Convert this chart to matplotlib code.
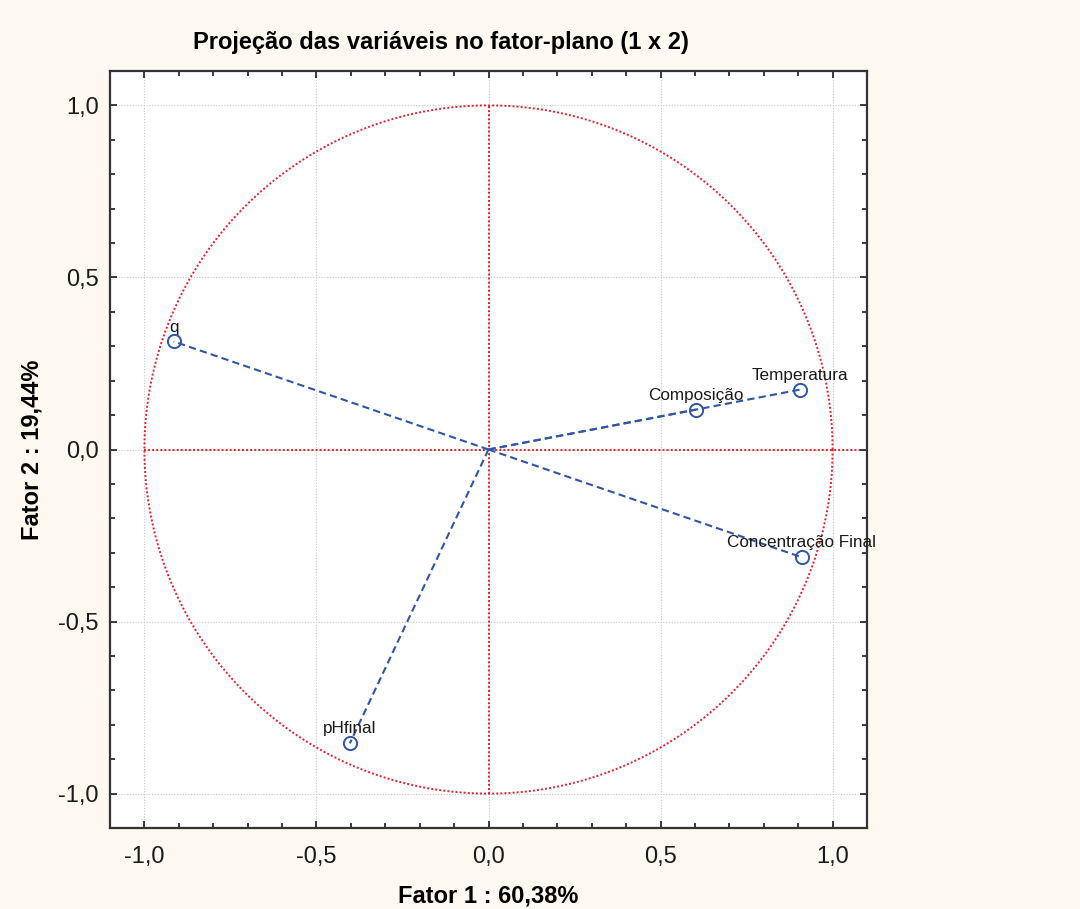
import numpy as np
import matplotlib.pyplot as plt
from matplotlib.ticker import MultipleLocator, FuncFormatter

plt.rcParams['font.family'] = ['Liberation Sans', 'DejaVu Sans']

# variable loadings on factors 1 and 2
variaveis = ['q', 'Temperatura', 'Composição', 'Concentração Final', 'pHfinal']
fator1 = [-0.915, 0.905, 0.603, 0.91, -0.403]
fator2 = [0.314, 0.174, 0.116, -0.313, -0.854]

blue = '#2f55a8'
red = '#e8202a'
bg = '#fdf9f1'

fig = plt.figure(figsize=(10.8, 9.09), dpi=100, facecolor=bg)
ax = fig.add_axes([110/1080, 1 - 828/909, 757/1080, 757/909])
ax.set_facecolor('white')

ax.set_xlim(-1.1, 1.1)
ax.set_ylim(-1.1, 1.1)

# unit circle and axes through origin
t = np.linspace(0, 2*np.pi, 600)
ax.plot(np.cos(t), np.sin(t), color=red, lw=1.4, ls=(0, (1, 1.1)), zorder=2)
ax.plot([-1, 1.08], [0, 0], color=red, lw=1.4, ls=(0, (1, 1.1)), zorder=2)
ax.plot([0, 0], [-1, 1], color=red, lw=1.4, ls=(0, (1, 1.1)), zorder=2)

for name, x, y in zip(variaveis, fator1, fator2):
    ax.plot([0, x], [0, y], color=blue, lw=1.5, ls=(0, (3.5, 2)), zorder=3)
    ax.plot(x, y, 'o', mfc='none', mec=blue, ms=9.5, mew=1.4, zorder=4)
    ax.annotate(name, (x, y), xytext=(0, 5), textcoords='offset points',
                ha='center', va='bottom', fontsize=12.3, color='#1a1a1a')

ax.xaxis.set_major_locator(MultipleLocator(0.5))
ax.yaxis.set_major_locator(MultipleLocator(0.5))
ax.xaxis.set_minor_locator(MultipleLocator(0.1))
ax.yaxis.set_minor_locator(MultipleLocator(0.1))
fmt = FuncFormatter(lambda v, p: f'{v:.1f}'.replace('.', ','))
ax.xaxis.set_major_formatter(fmt)
ax.yaxis.set_major_formatter(fmt)
ax.tick_params(which='both', direction='in', top=True, right=True,
               labelsize=17, colors='#1a1a1a', width=1.2)
ax.tick_params(which='major', length=5)
ax.tick_params(axis='x', which='major', pad=13)
ax.tick_params(axis='y', which='major', pad=8)
ax.tick_params(which='minor', length=3.5)
ax.grid(True, which='major', color='#c8c8c8', ls=(0, (1, 1.5)), lw=0.8, zorder=1)
for s in ax.spines.values():
    s.set_linewidth(1.6)
    s.set_color('#333333')

ax.set_xlabel('Fator 1 : 60,38%', fontsize=17, fontweight='bold', labelpad=12)
ax.set_ylabel('Fator 2 : 19,44%', fontsize=17, fontweight='bold', labelpad=11)
fig.text(441/1080, 1 - 43/909, 'Projeção das variáveis no fator-plano (1 x 2)',
         ha='center', va='center', fontsize=17, fontweight='bold')

fig.savefig('out.png', dpi=100, facecolor=bg)
